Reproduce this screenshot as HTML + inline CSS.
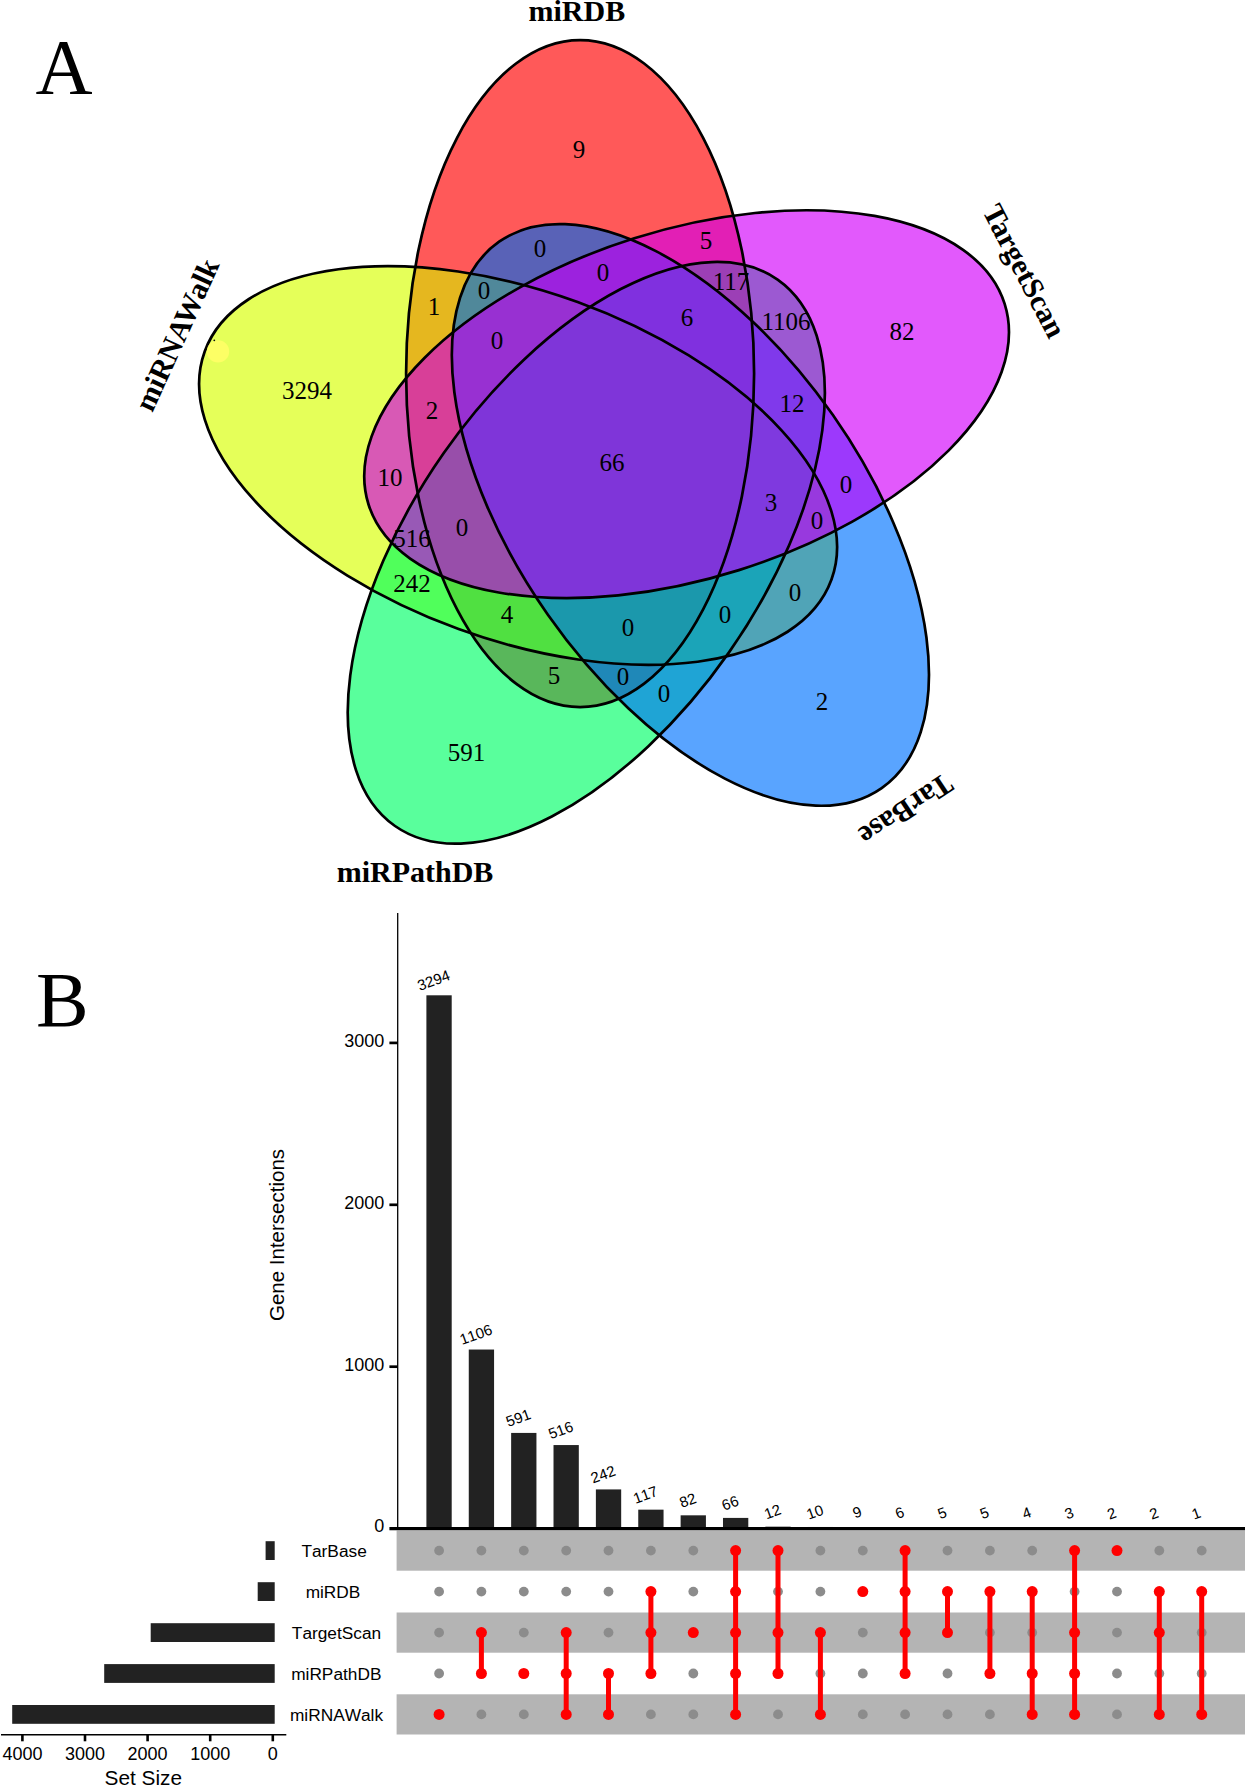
<!DOCTYPE html>
<html lang="en"><head><meta charset="utf-8"><title>Figure</title>
<style>
html,body{margin:0;padding:0;background:#fff}
svg{display:block}
.s{font-kerning:none}
.n{font-family:"Liberation Serif",serif;font-size:25px;text-anchor:middle;fill:#000}
.c{font-family:"Liberation Serif",serif;font-weight:bold;font-size:30px;text-anchor:middle;fill:#000}
.p{font-family:"Liberation Serif",serif;font-size:79px;fill:#000}
.s{font-family:"Liberation Sans",sans-serif;fill:#000}
</style></head><body>
<svg width="1245" height="1787" viewBox="0 0 1245 1787">
<rect width="1245" height="1787" fill="#fff"/>
<defs><filter id="gm" x="0" y="0" width="100%" height="100%" filterUnits="objectBoundingBox" color-interpolation-filters="sRGB"><feComponentTransfer><feFuncR type="gamma" amplitude="1" exponent="1.18" offset="0"/><feFuncG type="gamma" amplitude="1" exponent="1.18" offset="0"/><feFuncB type="gamma" amplitude="1" exponent="1.18" offset="0"/></feComponentTransfer></filter></defs>
<g id="venn">
<g filter="url(#gm)">
<rect x="150" y="20" width="900" height="850" fill="#fff"/>
<ellipse cx="0" cy="0" rx="174.0" ry="333.5" transform="translate(580.1 373.6) rotate(0)" fill="rgb(255,0,0)" fill-opacity="0.59" stroke="none"/>
<ellipse cx="0" cy="0" rx="174.0" ry="333.5" transform="translate(518.1 465.5) rotate(110)" fill="rgb(218,255,0)" fill-opacity="0.59" stroke="none"/>
<ellipse cx="0" cy="0" rx="174.0" ry="333.5" transform="translate(586.3 552.8) rotate(-145)" fill="rgb(0,255,108)" fill-opacity="0.59" stroke="none"/>
<ellipse cx="0" cy="0" rx="174.0" ry="333.5" transform="translate(690.4 514.9) rotate(-35)" fill="rgb(0,120,255)" fill-opacity="0.59" stroke="none"/>
<ellipse cx="0" cy="0" rx="174.0" ry="333.5" transform="translate(686.6 404.2) rotate(72.5)" fill="rgb(215,0,252)" fill-opacity="0.59" stroke="none"/>
</g>
<ellipse cx="0" cy="0" rx="174.0" ry="333.5" transform="translate(580.1 373.6) rotate(0)" fill="none" stroke="#000" stroke-width="2.7"/>
<ellipse cx="0" cy="0" rx="174.0" ry="333.5" transform="translate(518.1 465.5) rotate(110)" fill="none" stroke="#000" stroke-width="2.7"/>
<ellipse cx="0" cy="0" rx="174.0" ry="333.5" transform="translate(586.3 552.8) rotate(-145)" fill="none" stroke="#000" stroke-width="2.7"/>
<ellipse cx="0" cy="0" rx="174.0" ry="333.5" transform="translate(690.4 514.9) rotate(-35)" fill="none" stroke="#000" stroke-width="2.7"/>
<ellipse cx="0" cy="0" rx="174.0" ry="333.5" transform="translate(686.6 404.2) rotate(72.5)" fill="none" stroke="#000" stroke-width="2.7"/>
<circle cx="218" cy="351.4" r="11.2" fill="#ffff66" fill-opacity="0.9"/><circle cx="214.3" cy="340.3" r="0.9" fill="#111"/>
<text class="n" x="579" y="157.6">9</text>
<text class="n" x="540" y="256.6">0</text>
<text class="n" x="706" y="248.6">5</text>
<text class="n" x="603" y="280.6">0</text>
<text class="n" x="434" y="314.6">1</text>
<text class="n" x="484" y="298.6">0</text>
<text class="n" x="731" y="289.6">117</text>
<text class="n" x="497" y="348.6">0</text>
<text class="n" x="687" y="325.6">6</text>
<text class="n" x="786" y="329.6">1106</text>
<text class="n" x="902" y="339.6">82</text>
<text class="n" x="307" y="398.6">3294</text>
<text class="n" x="432" y="418.6">2</text>
<text class="n" x="792" y="411.6">12</text>
<text class="n" x="390" y="485.6">10</text>
<text class="n" x="612" y="470.6">66</text>
<text class="n" x="846" y="492.6">0</text>
<text class="n" x="771" y="510.6">3</text>
<text class="n" x="817" y="528.6">0</text>
<text class="n" x="412" y="546.6">516</text>
<text class="n" x="462" y="535.6">0</text>
<text class="n" x="412" y="591.6">242</text>
<text class="n" x="795" y="600.6">0</text>
<text class="n" x="507" y="622.6">4</text>
<text class="n" x="628" y="635.6">0</text>
<text class="n" x="725" y="622.6">0</text>
<text class="n" x="554" y="683.6">5</text>
<text class="n" x="623" y="684.6">0</text>
<text class="n" x="664" y="701.6">0</text>
<text class="n" x="822" y="709.6">2</text>
<text class="n" x="466.5" y="760.8000000000001">591</text>
<text class="c" transform="translate(576.8 21.2) rotate(0)">miRDB</text>
<text class="c" transform="translate(1015.5 275.5) rotate(62.5)">TargetScan</text>
<text class="c" transform="translate(186 339) rotate(-65.5)">miRNAWalk</text>
<text class="c" transform="translate(900.3 801.5) rotate(146.5)">TarBase</text>
<text class="c" transform="translate(415 881.7) rotate(0)">miRPathDB</text>
<text class="p" x="35.5" y="93">A</text>
<text class="p" x="36" y="1026">B</text>
</g>
<g id="upset">
<rect x="396.6" y="1530.5" width="848.4" height="40.2" fill="#b4b4b4"/>
<rect x="396.6" y="1612.5" width="848.4" height="40.2" fill="#b4b4b4"/>
<rect x="396.6" y="1694.3" width="848.4" height="40.2" fill="#b4b4b4"/>
<rect x="426.40" y="995.30" width="25.3" height="533.30" fill="#222"/>
<text class="s" font-size="15" text-anchor="middle" transform="translate(435.4 985.2) rotate(-20)">3294</text>
<rect x="468.77" y="1349.54" width="25.3" height="179.06" fill="#222"/>
<text class="s" font-size="15" text-anchor="middle" transform="translate(477.7 1339.4) rotate(-20)">1106</text>
<rect x="511.14" y="1432.92" width="25.3" height="95.68" fill="#222"/>
<text class="s" font-size="15" text-anchor="middle" transform="translate(520.1 1422.8) rotate(-20)">591</text>
<rect x="553.51" y="1445.06" width="25.3" height="83.54" fill="#222"/>
<text class="s" font-size="15" text-anchor="middle" transform="translate(562.5 1435.0) rotate(-20)">516</text>
<rect x="595.88" y="1489.42" width="25.3" height="39.18" fill="#222"/>
<text class="s" font-size="15" text-anchor="middle" transform="translate(604.8 1479.3) rotate(-20)">242</text>
<rect x="638.25" y="1509.66" width="25.3" height="18.94" fill="#222"/>
<text class="s" font-size="15" text-anchor="middle" transform="translate(647.2 1499.6) rotate(-20)">117</text>
<rect x="680.62" y="1515.32" width="25.3" height="13.28" fill="#222"/>
<text class="s" font-size="15" text-anchor="middle" transform="translate(689.6 1505.2) rotate(-20)">82</text>
<rect x="722.99" y="1517.91" width="25.3" height="10.69" fill="#222"/>
<text class="s" font-size="15" text-anchor="middle" transform="translate(731.9 1507.8) rotate(-20)">66</text>
<rect x="765.36" y="1526.66" width="25.3" height="1.94" fill="#222"/>
<text class="s" font-size="15" text-anchor="middle" transform="translate(774.3 1516.6) rotate(-20)">12</text>
<rect x="807.73" y="1526.98" width="25.3" height="1.62" fill="#222"/>
<text class="s" font-size="15" text-anchor="middle" transform="translate(816.7 1516.9) rotate(-20)">10</text>
<rect x="850.10" y="1527.14" width="25.3" height="1.46" fill="#222"/>
<text class="s" font-size="15" text-anchor="middle" transform="translate(859.0 1517.0) rotate(-20)">9</text>
<rect x="892.47" y="1527.63" width="25.3" height="0.97" fill="#222"/>
<text class="s" font-size="15" text-anchor="middle" transform="translate(901.4 1517.5) rotate(-20)">6</text>
<rect x="934.84" y="1527.79" width="25.3" height="0.81" fill="#222"/>
<text class="s" font-size="15" text-anchor="middle" transform="translate(943.8 1517.7) rotate(-20)">5</text>
<rect x="977.21" y="1527.79" width="25.3" height="0.81" fill="#222"/>
<text class="s" font-size="15" text-anchor="middle" transform="translate(986.2 1517.7) rotate(-20)">5</text>
<rect x="1019.58" y="1527.95" width="25.3" height="0.65" fill="#222"/>
<text class="s" font-size="15" text-anchor="middle" transform="translate(1028.5 1517.9) rotate(-20)">4</text>
<rect x="1061.95" y="1528.11" width="25.3" height="0.49" fill="#222"/>
<text class="s" font-size="15" text-anchor="middle" transform="translate(1070.9 1518.0) rotate(-20)">3</text>
<rect x="1104.32" y="1528.28" width="25.3" height="0.32" fill="#222"/>
<text class="s" font-size="15" text-anchor="middle" transform="translate(1113.3 1518.2) rotate(-20)">2</text>
<rect x="1146.69" y="1528.28" width="25.3" height="0.32" fill="#222"/>
<text class="s" font-size="15" text-anchor="middle" transform="translate(1155.6 1518.2) rotate(-20)">2</text>
<rect x="1189.06" y="1528.44" width="25.3" height="0.16" fill="#222"/>
<text class="s" font-size="15" text-anchor="middle" transform="translate(1198.0 1518.3) rotate(-20)">1</text>
<line x1="397.7" y1="913" x2="397.7" y2="1528.6" stroke="#000" stroke-width="1.3"/>
<line x1="389.4" y1="1528.6" x2="1245" y2="1528.6" stroke="#000" stroke-width="3.2"/>
<line x1="389.4" y1="1366.7" x2="397.7" y2="1366.7" stroke="#000" stroke-width="2.7"/>
<text class="s" font-size="18" text-anchor="end" x="384.3" y="1371.1">1000</text>
<line x1="389.4" y1="1204.8" x2="397.7" y2="1204.8" stroke="#000" stroke-width="2.7"/>
<text class="s" font-size="18" text-anchor="end" x="384.3" y="1209.2">2000</text>
<line x1="389.4" y1="1042.9" x2="397.7" y2="1042.9" stroke="#000" stroke-width="2.7"/>
<text class="s" font-size="18" text-anchor="end" x="384.3" y="1047.3">3000</text>
<text class="s" font-size="18" text-anchor="end" x="384.3" y="1532.4">0</text>
<text class="s" font-size="20.5" text-anchor="middle" transform="translate(284.3 1235) rotate(-90)">Gene Intersections</text>
<circle cx="439.1" cy="1550.6" r="4.9" fill="#8c8c8c"/>
<circle cx="439.1" cy="1591.6" r="4.9" fill="#8c8c8c"/>
<circle cx="439.1" cy="1632.6" r="4.9" fill="#8c8c8c"/>
<circle cx="439.1" cy="1673.5" r="4.9" fill="#8c8c8c"/>
<circle cx="481.4" cy="1550.6" r="4.9" fill="#8c8c8c"/>
<circle cx="481.4" cy="1591.6" r="4.9" fill="#8c8c8c"/>
<circle cx="481.4" cy="1714.4" r="4.9" fill="#8c8c8c"/>
<circle cx="523.8" cy="1550.6" r="4.9" fill="#8c8c8c"/>
<circle cx="523.8" cy="1591.6" r="4.9" fill="#8c8c8c"/>
<circle cx="523.8" cy="1632.6" r="4.9" fill="#8c8c8c"/>
<circle cx="523.8" cy="1714.4" r="4.9" fill="#8c8c8c"/>
<circle cx="566.2" cy="1550.6" r="4.9" fill="#8c8c8c"/>
<circle cx="566.2" cy="1591.6" r="4.9" fill="#8c8c8c"/>
<circle cx="608.5" cy="1550.6" r="4.9" fill="#8c8c8c"/>
<circle cx="608.5" cy="1591.6" r="4.9" fill="#8c8c8c"/>
<circle cx="608.5" cy="1632.6" r="4.9" fill="#8c8c8c"/>
<circle cx="650.9" cy="1550.6" r="4.9" fill="#8c8c8c"/>
<circle cx="650.9" cy="1714.4" r="4.9" fill="#8c8c8c"/>
<circle cx="693.3" cy="1550.6" r="4.9" fill="#8c8c8c"/>
<circle cx="693.3" cy="1591.6" r="4.9" fill="#8c8c8c"/>
<circle cx="693.3" cy="1673.5" r="4.9" fill="#8c8c8c"/>
<circle cx="693.3" cy="1714.4" r="4.9" fill="#8c8c8c"/>
<circle cx="778.0" cy="1591.6" r="4.9" fill="#8c8c8c"/>
<circle cx="778.0" cy="1714.4" r="4.9" fill="#8c8c8c"/>
<circle cx="820.4" cy="1550.6" r="4.9" fill="#8c8c8c"/>
<circle cx="820.4" cy="1591.6" r="4.9" fill="#8c8c8c"/>
<circle cx="820.4" cy="1673.5" r="4.9" fill="#8c8c8c"/>
<circle cx="862.8" cy="1550.6" r="4.9" fill="#8c8c8c"/>
<circle cx="862.8" cy="1632.6" r="4.9" fill="#8c8c8c"/>
<circle cx="862.8" cy="1673.5" r="4.9" fill="#8c8c8c"/>
<circle cx="862.8" cy="1714.4" r="4.9" fill="#8c8c8c"/>
<circle cx="905.1" cy="1714.4" r="4.9" fill="#8c8c8c"/>
<circle cx="947.5" cy="1550.6" r="4.9" fill="#8c8c8c"/>
<circle cx="947.5" cy="1673.5" r="4.9" fill="#8c8c8c"/>
<circle cx="947.5" cy="1714.4" r="4.9" fill="#8c8c8c"/>
<circle cx="989.9" cy="1550.6" r="4.9" fill="#8c8c8c"/>
<circle cx="989.9" cy="1632.6" r="4.9" fill="#8c8c8c"/>
<circle cx="989.9" cy="1714.4" r="4.9" fill="#8c8c8c"/>
<circle cx="1032.2" cy="1550.6" r="4.9" fill="#8c8c8c"/>
<circle cx="1032.2" cy="1632.6" r="4.9" fill="#8c8c8c"/>
<circle cx="1074.6" cy="1591.6" r="4.9" fill="#8c8c8c"/>
<circle cx="1117.0" cy="1591.6" r="4.9" fill="#8c8c8c"/>
<circle cx="1117.0" cy="1632.6" r="4.9" fill="#8c8c8c"/>
<circle cx="1117.0" cy="1673.5" r="4.9" fill="#8c8c8c"/>
<circle cx="1117.0" cy="1714.4" r="4.9" fill="#8c8c8c"/>
<circle cx="1159.3" cy="1550.6" r="4.9" fill="#8c8c8c"/>
<circle cx="1159.3" cy="1673.5" r="4.9" fill="#8c8c8c"/>
<circle cx="1201.7" cy="1550.6" r="4.9" fill="#8c8c8c"/>
<circle cx="1201.7" cy="1632.6" r="4.9" fill="#8c8c8c"/>
<circle cx="1201.7" cy="1673.5" r="4.9" fill="#8c8c8c"/>
<circle cx="439.1" cy="1714.4" r="5.5" fill="#f00"/>
<line x1="481.4" y1="1632.6" x2="481.4" y2="1673.5" stroke="#f00" stroke-width="5"/>
<circle cx="481.4" cy="1632.6" r="5.5" fill="#f00"/>
<circle cx="481.4" cy="1673.5" r="5.5" fill="#f00"/>
<circle cx="523.8" cy="1673.5" r="5.5" fill="#f00"/>
<line x1="566.2" y1="1632.6" x2="566.2" y2="1714.4" stroke="#f00" stroke-width="5"/>
<circle cx="566.2" cy="1632.6" r="5.5" fill="#f00"/>
<circle cx="566.2" cy="1673.5" r="5.5" fill="#f00"/>
<circle cx="566.2" cy="1714.4" r="5.5" fill="#f00"/>
<line x1="608.5" y1="1673.5" x2="608.5" y2="1714.4" stroke="#f00" stroke-width="5"/>
<circle cx="608.5" cy="1673.5" r="5.5" fill="#f00"/>
<circle cx="608.5" cy="1714.4" r="5.5" fill="#f00"/>
<line x1="650.9" y1="1591.6" x2="650.9" y2="1673.5" stroke="#f00" stroke-width="5"/>
<circle cx="650.9" cy="1591.6" r="5.5" fill="#f00"/>
<circle cx="650.9" cy="1632.6" r="5.5" fill="#f00"/>
<circle cx="650.9" cy="1673.5" r="5.5" fill="#f00"/>
<circle cx="693.3" cy="1632.6" r="5.5" fill="#f00"/>
<line x1="735.6" y1="1550.6" x2="735.6" y2="1714.4" stroke="#f00" stroke-width="5"/>
<circle cx="735.6" cy="1550.6" r="5.5" fill="#f00"/>
<circle cx="735.6" cy="1591.6" r="5.5" fill="#f00"/>
<circle cx="735.6" cy="1632.6" r="5.5" fill="#f00"/>
<circle cx="735.6" cy="1673.5" r="5.5" fill="#f00"/>
<circle cx="735.6" cy="1714.4" r="5.5" fill="#f00"/>
<line x1="778.0" y1="1550.6" x2="778.0" y2="1673.5" stroke="#f00" stroke-width="5"/>
<circle cx="778.0" cy="1550.6" r="5.5" fill="#f00"/>
<circle cx="778.0" cy="1632.6" r="5.5" fill="#f00"/>
<circle cx="778.0" cy="1673.5" r="5.5" fill="#f00"/>
<line x1="820.4" y1="1632.6" x2="820.4" y2="1714.4" stroke="#f00" stroke-width="5"/>
<circle cx="820.4" cy="1632.6" r="5.5" fill="#f00"/>
<circle cx="820.4" cy="1714.4" r="5.5" fill="#f00"/>
<circle cx="862.8" cy="1591.6" r="5.5" fill="#f00"/>
<line x1="905.1" y1="1550.6" x2="905.1" y2="1673.5" stroke="#f00" stroke-width="5"/>
<circle cx="905.1" cy="1550.6" r="5.5" fill="#f00"/>
<circle cx="905.1" cy="1591.6" r="5.5" fill="#f00"/>
<circle cx="905.1" cy="1632.6" r="5.5" fill="#f00"/>
<circle cx="905.1" cy="1673.5" r="5.5" fill="#f00"/>
<line x1="947.5" y1="1591.6" x2="947.5" y2="1632.6" stroke="#f00" stroke-width="5"/>
<circle cx="947.5" cy="1591.6" r="5.5" fill="#f00"/>
<circle cx="947.5" cy="1632.6" r="5.5" fill="#f00"/>
<line x1="989.9" y1="1591.6" x2="989.9" y2="1673.5" stroke="#f00" stroke-width="5"/>
<circle cx="989.9" cy="1591.6" r="5.5" fill="#f00"/>
<circle cx="989.9" cy="1673.5" r="5.5" fill="#f00"/>
<line x1="1032.2" y1="1591.6" x2="1032.2" y2="1714.4" stroke="#f00" stroke-width="5"/>
<circle cx="1032.2" cy="1591.6" r="5.5" fill="#f00"/>
<circle cx="1032.2" cy="1673.5" r="5.5" fill="#f00"/>
<circle cx="1032.2" cy="1714.4" r="5.5" fill="#f00"/>
<line x1="1074.6" y1="1550.6" x2="1074.6" y2="1714.4" stroke="#f00" stroke-width="5"/>
<circle cx="1074.6" cy="1550.6" r="5.5" fill="#f00"/>
<circle cx="1074.6" cy="1632.6" r="5.5" fill="#f00"/>
<circle cx="1074.6" cy="1673.5" r="5.5" fill="#f00"/>
<circle cx="1074.6" cy="1714.4" r="5.5" fill="#f00"/>
<circle cx="1117.0" cy="1550.6" r="5.5" fill="#f00"/>
<line x1="1159.3" y1="1591.6" x2="1159.3" y2="1714.4" stroke="#f00" stroke-width="5"/>
<circle cx="1159.3" cy="1591.6" r="5.5" fill="#f00"/>
<circle cx="1159.3" cy="1632.6" r="5.5" fill="#f00"/>
<circle cx="1159.3" cy="1714.4" r="5.5" fill="#f00"/>
<line x1="1201.7" y1="1591.6" x2="1201.7" y2="1714.4" stroke="#f00" stroke-width="5"/>
<circle cx="1201.7" cy="1591.6" r="5.5" fill="#f00"/>
<circle cx="1201.7" cy="1714.4" r="5.5" fill="#f00"/>
<rect x="265.6" y="1541.2" width="9.1" height="18.8" fill="#222"/>
<text class="s" font-size="17.3" text-anchor="middle" x="334.1" y="1556.8">TarBase</text>
<rect x="257.7" y="1582.2" width="17.0" height="18.8" fill="#222"/>
<text class="s" font-size="17.3" text-anchor="middle" x="333.0" y="1597.8">miRDB</text>
<rect x="150.7" y="1623.2" width="124.0" height="18.8" fill="#222"/>
<text class="s" font-size="17.3" text-anchor="middle" x="336.5" y="1638.8">TargetScan</text>
<rect x="104.2" y="1664.1" width="170.5" height="18.8" fill="#222"/>
<text class="s" font-size="17.3" text-anchor="middle" x="336.3" y="1679.7">miRPathDB</text>
<rect x="12.2" y="1705.0" width="262.5" height="18.8" fill="#222"/>
<text class="s" font-size="17.3" text-anchor="middle" x="336.5" y="1720.6">miRNAWalk</text>
<line x1="1" y1="1734.8" x2="286.3" y2="1734.8" stroke="#000" stroke-width="1.5"/>
<line x1="272.8" y1="1734.8" x2="272.8" y2="1741.3" stroke="#000" stroke-width="2.6"/>
<text class="s" font-size="18" text-anchor="middle" x="272.8" y="1760.3">0</text>
<line x1="210.2" y1="1734.8" x2="210.2" y2="1741.3" stroke="#000" stroke-width="2.6"/>
<text class="s" font-size="18" text-anchor="middle" x="210.2" y="1760.3">1000</text>
<line x1="147.6" y1="1734.8" x2="147.6" y2="1741.3" stroke="#000" stroke-width="2.6"/>
<text class="s" font-size="18" text-anchor="middle" x="147.6" y="1760.3">2000</text>
<line x1="85.0" y1="1734.8" x2="85.0" y2="1741.3" stroke="#000" stroke-width="2.6"/>
<text class="s" font-size="18" text-anchor="middle" x="85.0" y="1760.3">3000</text>
<line x1="22.4" y1="1734.8" x2="22.4" y2="1741.3" stroke="#000" stroke-width="2.6"/>
<text class="s" font-size="18" text-anchor="middle" x="22.4" y="1760.3">4000</text>
<text class="s" font-size="20.8" text-anchor="middle" x="143.3" y="1784.7">Set Size</text>
</g>
</svg>
</body></html>
